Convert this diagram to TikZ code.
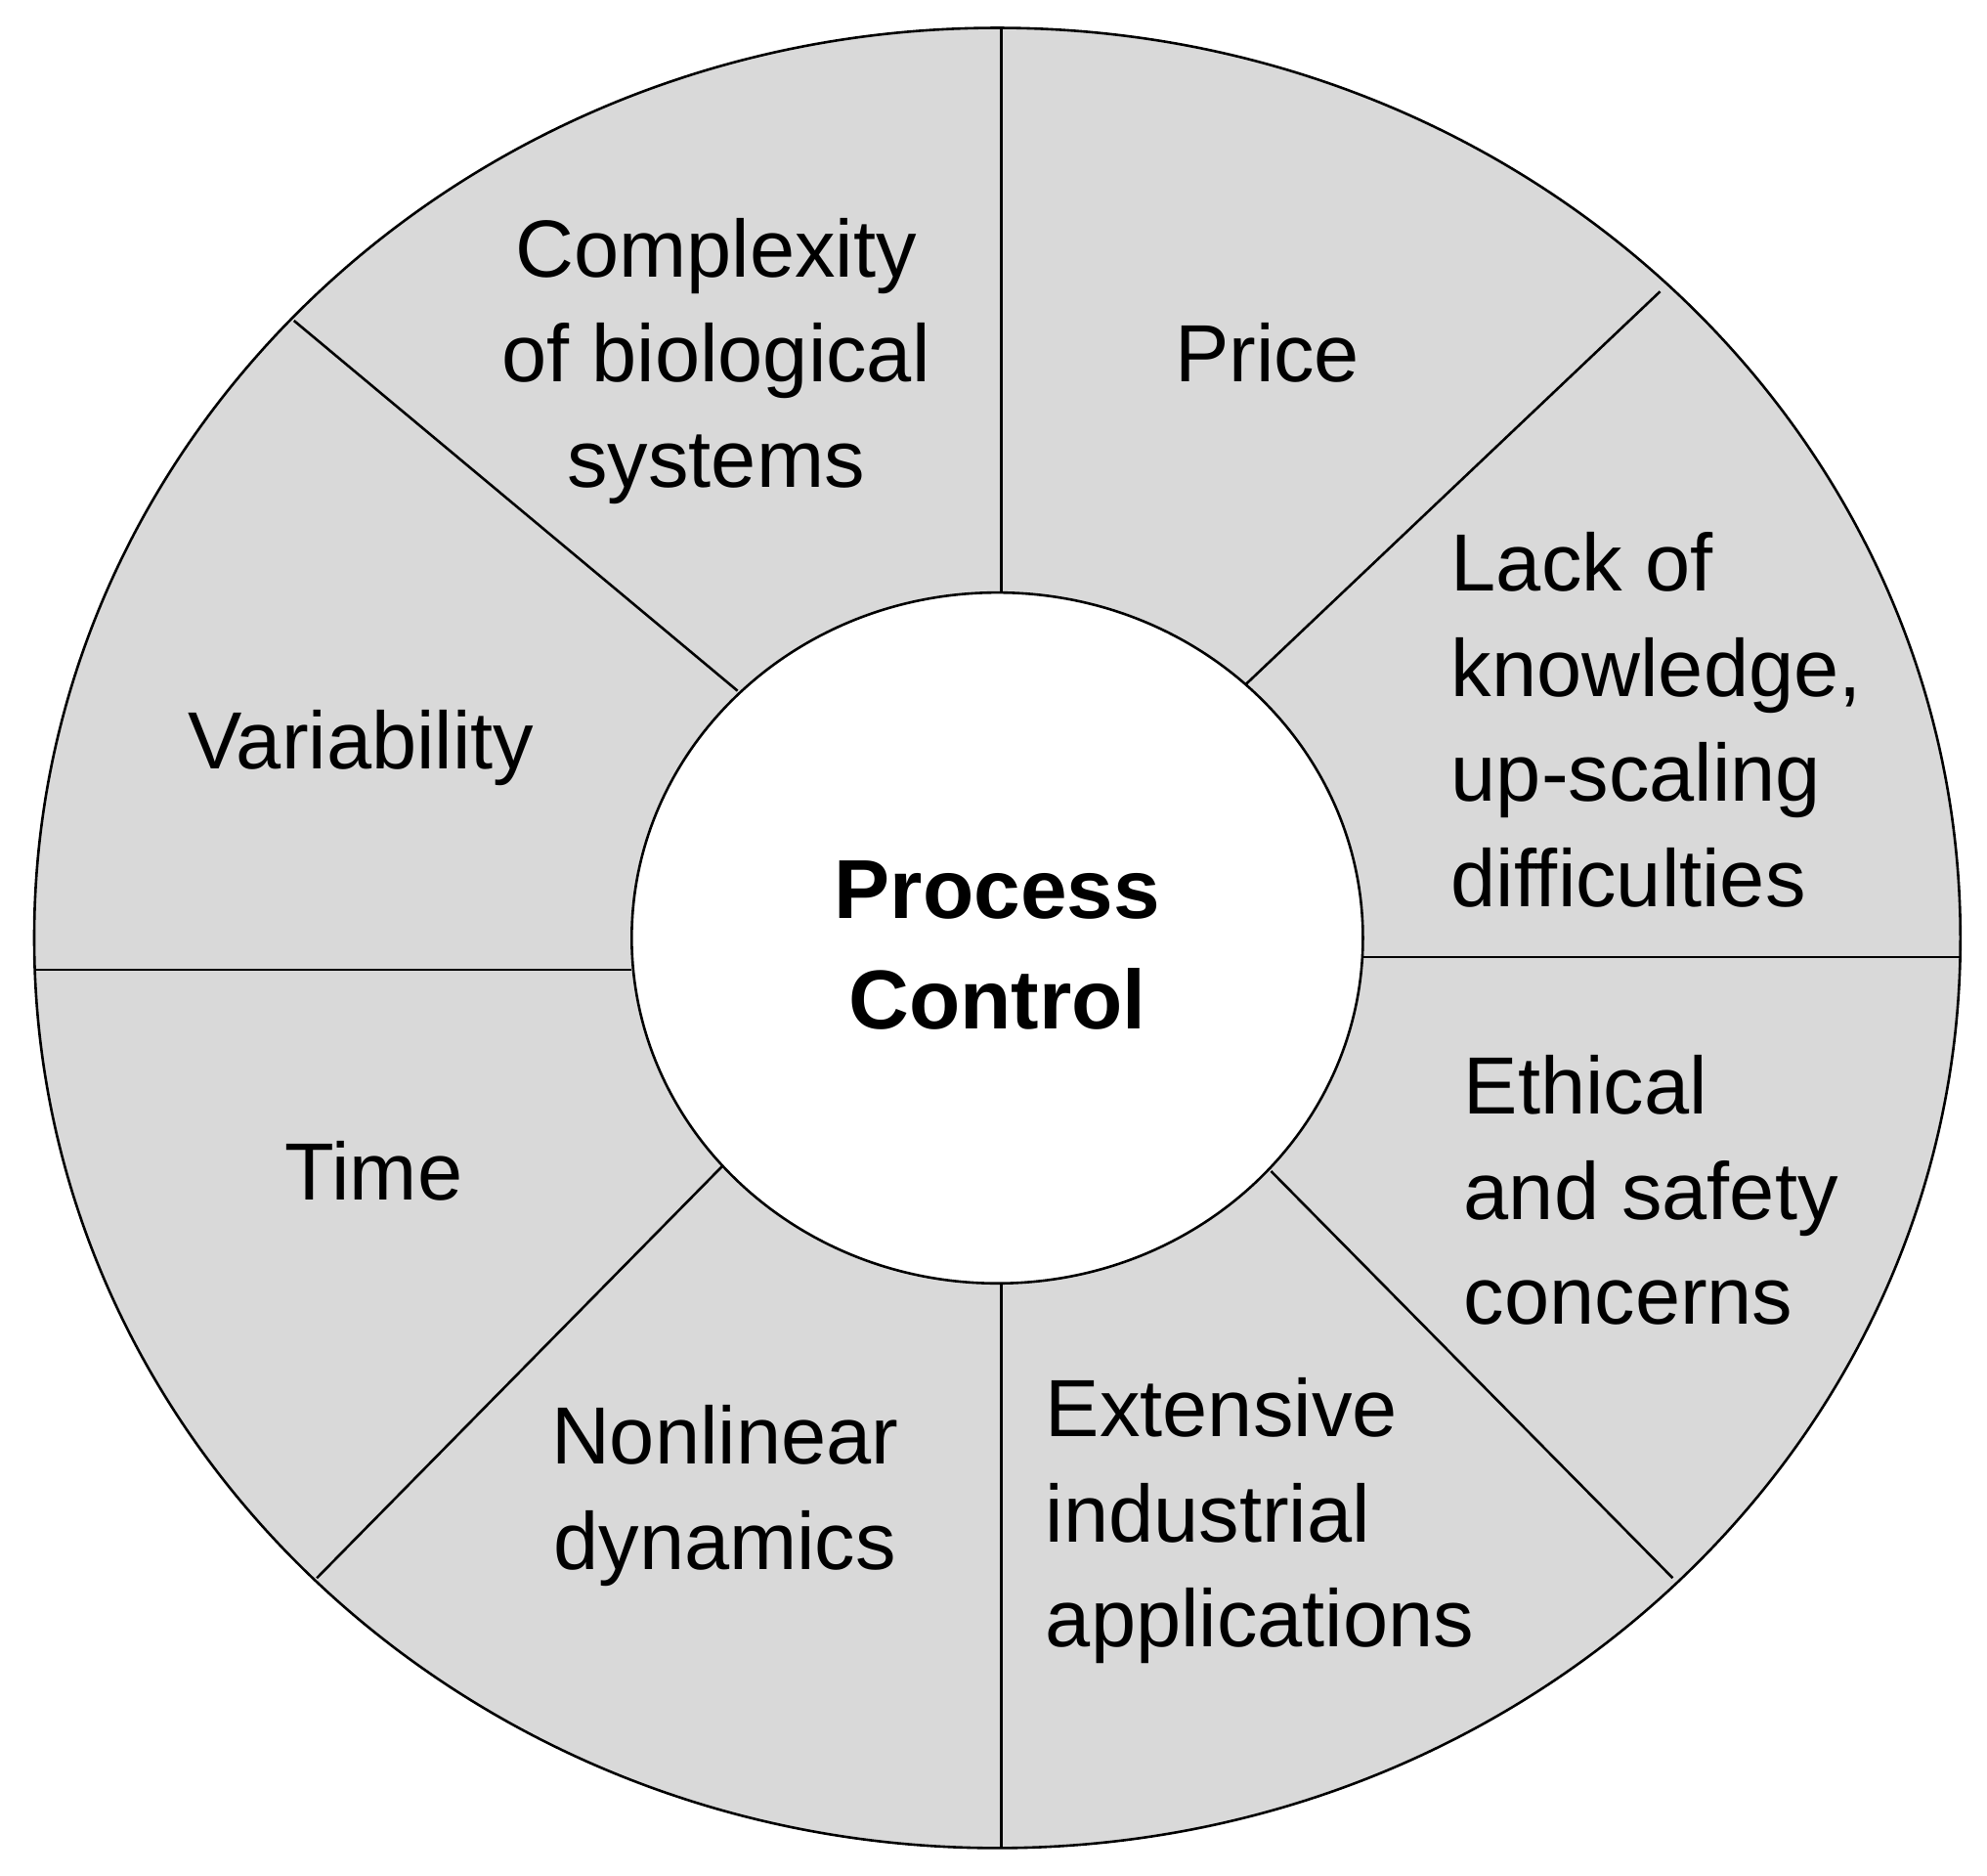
\documentclass[tikz,border=0pt]{standalone}
\usepackage{fontspec}
\usetikzlibrary{shapes.geometric}
\setmainfont{Liberation Sans}
\definecolor{segfill}{RGB}{217,217,217}
\begin{document}
\begin{tikzpicture}[x=1pt,y=-1pt,
  lbl/.style={font=\fontsize{64}{83}\selectfont, inner sep=0pt},
  lblc/.style={lbl, align=center},
  lbll/.style={lbl, align=left, anchor=west},
  seg/.style={line width=2pt, draw=black}]
\useasboundingbox (0,0) rectangle (1568,1480);
\node[seg, fill=segfill, shape=ellipse, minimum width=1520, minimum height=1436, inner sep=0pt] (outer) at (787,740) {};
\draw[seg] (790,467) -- (790,22);
\draw[seg] (582,545) -- (232,253);
\draw[seg] (498,765) -- (27,765);
\draw[seg] (572,918) -- (250,1245);
\draw[seg] (790,1012) -- (790,1458);
\draw[seg] (1003,924) -- (1320,1245);
\draw[seg] (1075,755) -- (1547,755);
\draw[seg] (983,540) -- (1310,230);
\node[seg, fill=white, shape=ellipse, minimum width=577, minimum height=545, inner sep=0pt] (inner) at (787,740) {};
\node[lblc, font=\fontsize{66}{87}\selectfont\bfseries] (pc) at (787,746) {Process\\Control};
\node[lblc] (cx) at (565,285) {Complexity\\of biological\\systems};
\node[lblc] (pr) at (1000,278) {Price};
\node[lbll] (lk) at (1145,568) {Lack of\\knowledge,\\up-scaling\\difficulties};
\node[lblc] (va) at (285,590) {Variability};
\node[lblc] (ti) at (295,924) {Time};
\node[lblc] (nl) at (572,1180) {Nonlinear\\dynamics};
\node[lbll] (ex) at (825,1200) {Extensive\\industrial\\applications};
\node[lbll] (et) at (1155,939) {Ethical\\and safety\\concerns};
\end{tikzpicture}
\end{document}
